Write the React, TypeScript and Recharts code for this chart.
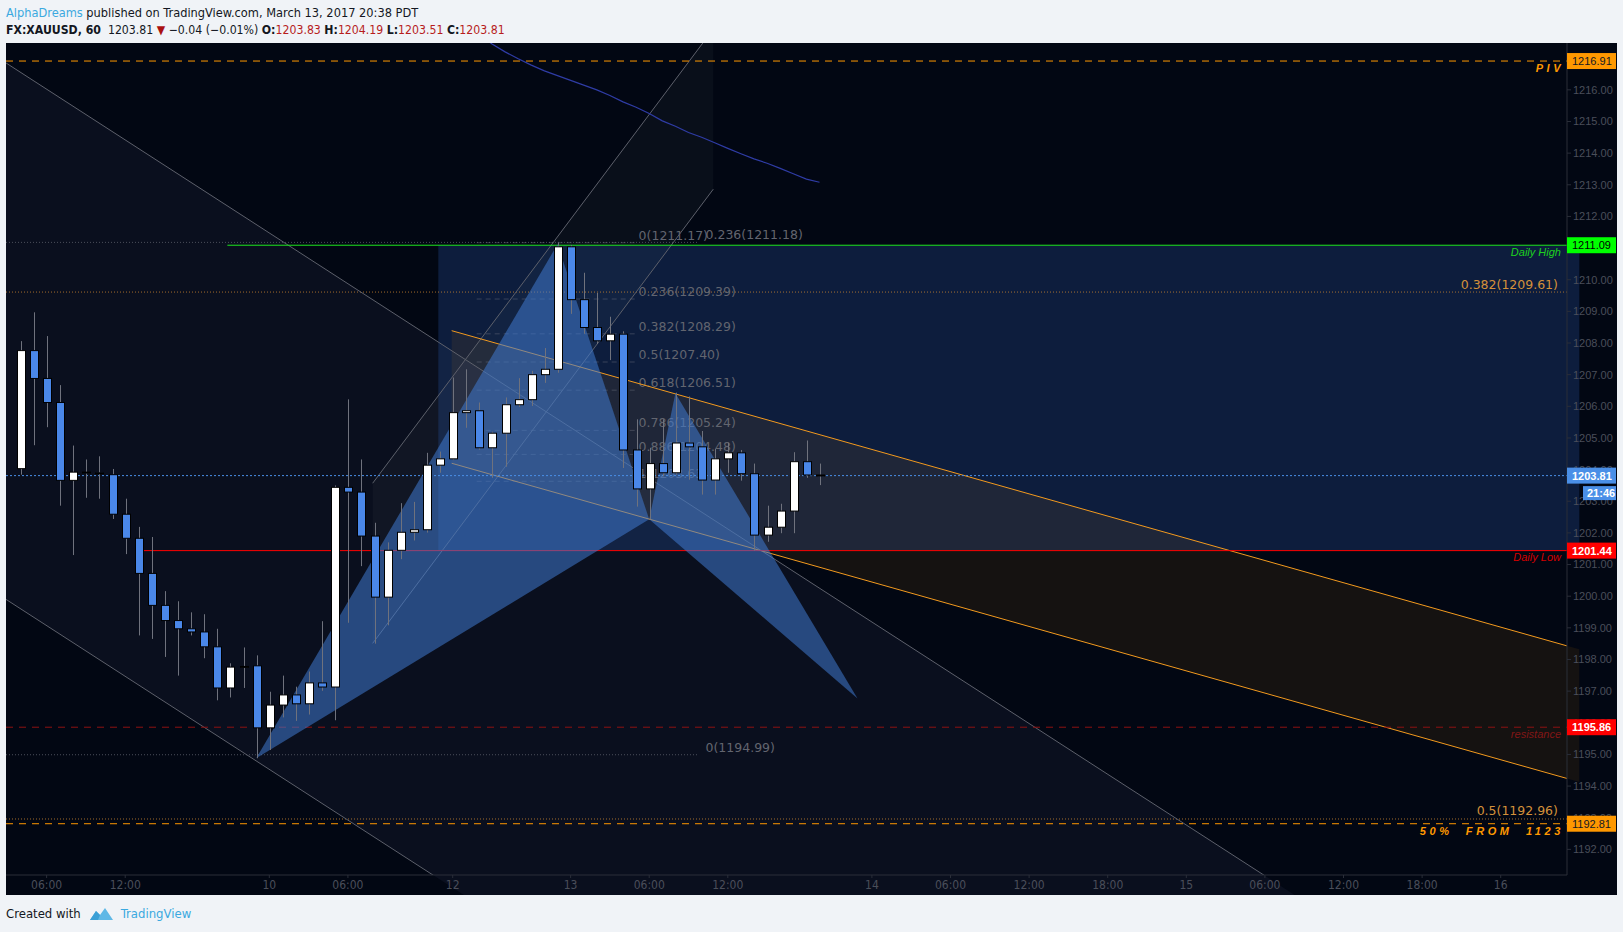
import React from 'react';
import { ComposedChart, Bar, Line, XAxis, YAxis, ReferenceLine, ReferenceArea, ReferenceDot } from 'recharts';

// ---------- data ----------
const barIndex = [-2,-1,0,1,2,3,4,5,6,7,8,9,10,11,12,13,14,15,16,17,18,19,20,21,22,23,24,25,26,27,28,29,30,31,32,33,34,35,36,37,38,39,40,41,42,43,44,45,46,47,48,49,50,51,52,53,54,55,56,57,58,59];
const opens = [1204.03,1207.76,1206.88,1206.12,1203.66,1203.92,1203.90,1203.84,1202.59,1201.83,1200.72,1199.71,1199.23,1198.97,1198.87,1198.40,1197.10,1197.76,1197.80,1195.84,1196.56,1196.88,1196.60,1197.26,1197.13,1203.44,1203.29,1201.90,1199.97,1201.45,1202.02,1202.10,1204.14,1204.34,1205.80,1205.86,1204.69,1205.15,1206.05,1206.21,1207.00,1207.17,1211.04,1209.37,1208.49,1208.07,1208.28,1204.62,1203.39,1204.19,1203.90,1204.84,1204.72,1203.67,1204.34,1204.53,1203.87,1201.93,1202.18,1202.69,1204.25,1203.83];
const highs = [1208.06,1208.97,1208.22,1206.67,1204.76,1204.32,1204.42,1204.02,1203.08,1202.19,1201.87,1200.16,1199.84,1199.49,1199.43,1198.97,1197.88,1198.38,1198.13,1196.98,1197.49,1197.14,1197.62,1199.21,1203.50,1206.22,1204.32,1202.32,1201.70,1202.94,1202.98,1204.53,1204.57,1206.91,1207.17,1206.12,1205.20,1206.28,1206.89,1207.12,1207.84,1211.17,1211.10,1210.22,1209.58,1208.83,1208.37,1205.59,1204.69,1205.59,1206.43,1206.31,1205.22,1204.66,1204.85,1204.62,1204.19,1202.86,1202.92,1204.55,1204.92,1204.19];
const lows = [1203.84,1204.77,1205.34,1202.86,1201.30,1203.11,1203.08,1202.44,1201.33,1198.76,1198.65,1198.08,1197.49,1198.76,1198.04,1196.71,1196.80,1197.10,1194.88,1195.14,1196.17,1196.06,1196.26,1197.01,1196.08,1199.16,1200.95,1198.50,1199.08,1201.17,1201.76,1202.01,1203.90,1204.30,1205.32,1204.63,1203.74,1204.09,1205.98,1206.01,1206.74,1207.06,1208.92,1208.29,1207.97,1207.46,1204.05,1202.83,1202.43,1203.79,1203.84,1203.68,1203.21,1203.21,1203.90,1203.65,1201.44,1201.72,1201.99,1201.99,1203.74,1203.51];
const closes = [1207.76,1206.88,1206.12,1203.66,1203.92,1203.90,1203.87,1202.59,1201.83,1200.72,1199.71,1199.23,1198.97,1198.87,1198.40,1197.10,1197.76,1197.78,1195.84,1196.56,1196.88,1196.60,1197.26,1197.13,1203.44,1203.29,1201.90,1199.97,1201.45,1202.02,1202.10,1204.14,1204.34,1205.80,1205.86,1204.69,1205.15,1206.05,1206.21,1207.00,1207.17,1211.04,1209.37,1208.49,1208.07,1208.28,1204.62,1203.39,1204.19,1203.90,1204.84,1204.72,1203.67,1204.34,1204.53,1203.87,1201.93,1202.18,1202.69,1204.25,1203.83,1203.81];

const maStart = 33;
const maValues = [1217.75,1217.45,1217.20,1216.98,1216.78,1216.60,1216.45,1216.30,1216.15,1216.00,1215.82,1215.62,1215.45,1215.25,1215.02,1214.85,1214.65,1214.50,1214.33,1214.15,1213.98,1213.82,1213.68,1213.52,1213.35,1213.18,1213.08];

const timeTicks = [0,6,17,23,31,40,46,52,63,69,75,81,87,93,99,105,111];
const timeLabels = ['06:00','12:00','10','06:00','12','13','06:00','12:00','14','06:00','12:00','18:00','15','06:00','12:00','18:00','16'];
const priceTicks = [1192,1193,1194,1195,1196,1197,1198,1199,1200,1201,1202,1203,1204,1205,1206,1207,1208,1209,1210,1211,1212,1213,1214,1215,1216];

// harmonic XABCD points
const harmI = [16, 39, 46, 48, 61.9];
const harmP = [1194.88, 1211.12, 1202.43, 1206.41, 1196.77];

// descending gray channel (two parallel lines)
const descTopI = [-4, 120];
const descTopP = [1217.09, 1183.95];
const descBotI = [-4, 120];
const descBotP = [1200.14, 1167.00];

// rising gray channel
const riseI = [24.89, 50.89];
const riseLowP = [1198.51, 1212.86];
const riseUpP = [1203.57, 1217.92];

// orange descending channel
const orangeI = [30.92, 117];
const orangeUpP = [1208.39, 1198.32];
const orangeLowP = [1204.20, 1194.13];

// daily range box
const boxI = [29.9, 117];
const dailyHigh = 1211.09;
const dailyLow = 1201.44;
const dailyHighStart = 13.8;
const dailyLowStart = 7.3;

// small fib retracement
const fibSmallLevels = [1211.17, 1209.39, 1208.29, 1207.40, 1206.51, 1205.24, 1204.48, 1203.63];
const fibSmallRatios = ['0', '0.236', '0.382', '0.5', '0.618', '0.786', '0.886', '1'];
const fibSmallSpan = [32.83, 44.9];
const fibSmallLabelI = 45.19;

// big gray fib
const fibBigLevels = [1211.18, 1194.99];
const fibBigRatios = ['0.236', '0'];
const fibBigSpan = [-3.1, 49.75];
const fibBigLabelI = 50.3;

// orange fib
const fibOrangeLevels = [1209.61, 1192.96];
const fibOrangeRatios = ['0.382', '0.5'];
const fibOrangeLabelI = 115.37;

const pivLevel = 1216.91;
const resistanceLevel = 1195.86;
const fiftyLevel = 1192.81;
const lastPrice = 1203.81;

const X_DOMAIN = [-3.1, 116.06];
const Y_DOMAIN = [1191.19, 1217.48];

const candleData = barIndex.map((i, k) => ({
  i,
  open: opens[k],
  high: highs[k],
  low: lows[k],
  close: closes[k],
  ma: i >= maStart ? maValues[i - maStart] : null,
}));

// ---------- styling ----------
const COND = "'Liberation Sans Narrow','DejaVu Sans Condensed','Roboto Condensed',sans-serif";
const SANS = "'Liberation Sans',Arial,sans-serif";
const DEJA = "'DejaVu Sans',Verdana,sans-serif";
const BG = '#020713';

function Candle(props: any) {
  const { x, y, width, height, payload } = props;
  if (x == null || y == null || !payload) return null;
  const top = Math.min(y, y + height);
  const h = Math.abs(height);
  const { open, close, high, low } = payload;
  const k = high > low ? h / (high - low) : 0;
  const yOf = (v: number) => top + (high - v) * k;
  const cx = Math.round(x + width / 2) + 0.5;
  const bTop = yOf(Math.max(open, close));
  const bBot = yOf(Math.min(open, close));
  const up = close >= open;
  return (
    <g>
      <line x1={cx} x2={cx} y1={top} y2={top + h} stroke="#6f727d" strokeWidth={1} />
      <rect x={cx - 4} y={bTop} width={8} height={Math.max(bBot - bTop, 1)} fill={up ? '#ffffff' : '#4a87e8'} stroke="#000000" strokeWidth={1} />
    </g>
  );
}

type Pt = { i: number; p: number };
function polyArea(key: string, pts: Pt[], fill: string, z: number) {
  const is = pts.map((q) => q.i);
  const ps = pts.map((q) => q.p);
  const i0 = Math.min(...is), i1 = Math.max(...is), p0 = Math.min(...ps), p1 = Math.max(...ps);
  const shape = (props: any) => {
    const { x, y, width, height } = props;
    if (x == null) return null;
    const px = (i: number) => x + ((i - i0) / (i1 - i0)) * width;
    const py = (p: number) => y + ((p1 - p) / (p1 - p0)) * height;
    const d = pts.map((q, n) => `${n ? 'L' : 'M'}${px(q.i).toFixed(2)},${py(q.p).toFixed(2)}`).join('') + 'Z';
    return <path d={d} fill={fill} stroke="none" />;
  };
  return (
    <ReferenceArea key={key} x1={i0} x2={i1} y1={p0} y2={p1} ifOverflow="hidden" shape={shape} zIndex={z} />
  );
}

function seg(key: string, a: Pt, b: Pt, stroke: string, z: number, dash?: string, width = 1, overflow: any = 'hidden', label?: any) {
  return (
    <ReferenceLine
      key={key}
      segment={[{ x: a.i, y: a.p }, { x: b.i, y: b.p }]}
      stroke={stroke}
      strokeWidth={width}
      strokeDasharray={dash}
      ifOverflow={overflow}
      zIndex={z}
      label={label}
    />
  );
}

function textDot(key: string, i: number, p: number, text: string, opts: any, z: number) {
  const shape = (props: any) => {
    const { cx, cy } = props;
    if (cx == null) return null;
    return (
      <text
        x={cx + (opts.dx || 0)}
        y={cy + (opts.dy || 0)}
        fill={opts.color}
        fontSize={opts.size || 12.5}
        fontFamily={opts.family || DEJA}
        textAnchor={opts.anchor || 'start'}
      >
        {text}
      </text>
    );
  };
  return <ReferenceDot key={key} x={i} y={p} r={0} ifOverflow="visible" shape={shape} zIndex={z} />;
}

// in-plot caption at right end of a horizontal line
function caption(inner: any) {
  return (props: any) => {
    const vb = props.viewBox || {};
    const xr = (vb.x || 0) + (vb.width || 0);
    const yy = vb.y || 0;
    return (
      <text
        x={xr - 6 - (inner.shift || 0)}
        y={yy + inner.dy}
        fill={inner.color}
        fontSize={inner.size || 11}
        fontFamily={SANS}
        fontStyle="italic"
        fontWeight={inner.bold ? 'bold' : 'normal'}
        textAnchor="end"
        letterSpacing={inner.ls || 0}
        style={{ whiteSpace: 'pre' }}
      >
        {inner.text}
      </text>
    );
  };
}

// price tag drawn on the price axis
function tag(value: string, bg: string, fg: string, extra?: string) {
  return (props: any) => {
    const vb = props.viewBox || {};
    const xr = (vb.x || 0) + (vb.width || 0);
    const yy = vb.y || 0;
    return (
      <g>
        <rect x={xr} y={yy - 8} width={49} height={16} fill={bg} />
        <text x={xr + 5} y={yy + 4} fill={fg} fontSize={11} fontFamily={SANS} fontWeight={fg === '#ffffff' ? 'bold' : 'normal'}>
          {value}
        </text>
        {extra ? (
          <g>
            <rect x={xr + 16} y={yy + 10.5} width={33} height={14} fill={bg} />
            <text x={xr + 20} y={yy + 21.5} fill="#ffffff" fontSize={11} fontFamily={SANS} fontWeight="bold">
              {extra}
            </text>
          </g>
        ) : null}
      </g>
    );
  };
}

function tagLine(key: string, level: number, render: any) {
  return (
    <ReferenceLine
      key={key}
      segment={[{ x: X_DOMAIN[0], y: level }, { x: X_DOMAIN[1], y: level }]}
      stroke="none"
      strokeWidth={0}
      ifOverflow="visible"
      zIndex={3000}
      label={render}
    />
  );
}

export default function App() {
  const X: Pt = { i: harmI[0], p: harmP[0] };
  const A: Pt = { i: harmI[1], p: harmP[1] };
  const B: Pt = { i: harmI[2], p: harmP[2] };
  const Cc: Pt = { i: harmI[3], p: harmP[3] };
  const D: Pt = { i: harmI[4], p: harmP[4] };

  return (
    <div style={{ position: 'absolute', left: 0, top: 0, width: 1623, height: 932, background: '#f0f3f7', overflow: 'hidden' }}>
      <div style={{ position: 'absolute', left: 6, top: 4, fontFamily: COND, fontSize: 12.7, lineHeight: '17px', color: '#131722', whiteSpace: 'nowrap' }}>
        <span style={{ color: '#3ba9e0' }}>AlphaDreams</span> published on TradingView.com, March 13, 2017 20:38 PDT
      </div>
      <div style={{ position: 'absolute', left: 6, top: 22, fontFamily: COND, fontSize: 12.2, lineHeight: '17px', color: '#131722', whiteSpace: 'pre' }}>
        <b>FX:XAUUSD, 60</b>{'  1203.81 '}
        <span style={{ color: '#a11' }}>▼</span>
        {' −0.04 (−0.01%) '}
        <b>O:</b><span style={{ color: '#b71c1c' }}>1203.83</span>{' '}
        <b>H:</b><span style={{ color: '#b71c1c' }}>1204.19</span>{' '}
        <b>L:</b><span style={{ color: '#b71c1c' }}>1203.51</span>{' '}
        <b>C:</b><span style={{ color: '#b71c1c' }}>1203.81</span>
      </div>

      <div style={{ position: 'absolute', left: 6, top: 43, width: 1611, height: 852, background: BG }}>
        <ComposedChart width={1611} height={852} data={candleData} margin={{ top: 0, right: 0, bottom: 0, left: 0 }}>
          <XAxis
            dataKey="i"
            type="number"
            domain={X_DOMAIN}
            allowDataOverflow
            ticks={timeTicks}
            interval={0}
            tickFormatter={(v: number) => timeLabels[timeTicks.indexOf(v)] || ''}
            height={20}
            stroke="#2a2e39"
            tickSize={3}
            tick={{ fill: '#4a4e5a', fontSize: 12, fontFamily: COND }}
          />
          <YAxis
            orientation="right"
            type="number"
            domain={Y_DOMAIN}
            allowDataOverflow
            ticks={priceTicks}
            interval={0}
            tickFormatter={(v: number) => v.toFixed(2)}
            width={50}
            stroke="#2a2e39"
            tickSize={4}
            tick={{ fill: '#4a4e5a', fontSize: 11, fontFamily: SANS }}
          />

          {/* background regions */}
          {polyArea('desc-fill', [
            { i: descTopI[0], p: descTopP[0] },
            { i: descTopI[1], p: descTopP[1] },
            { i: descBotI[1], p: descBotP[1] },
            { i: descBotI[0], p: descBotP[0] },
          ], '#0a0f1e', 1)}
          {polyArea('rise-fill', [
            { i: riseI[0], p: riseLowP[0] },
            { i: riseI[1], p: riseLowP[1] },
            { i: riseI[1], p: riseUpP[1] },
            { i: riseI[0], p: riseUpP[0] },
          ], 'rgba(120,123,134,0.07)', 2)}
          {polyArea('daily-box', [
            { i: boxI[0], p: dailyLow },
            { i: boxI[1], p: dailyLow },
            { i: boxI[1], p: dailyHigh },
            { i: boxI[0], p: dailyHigh },
          ], 'rgba(41,82,160,0.3)', 3)}
          {polyArea('orange-fill', [
            { i: orangeI[0], p: orangeLowP[0] },
            { i: orangeI[1], p: orangeLowP[1] },
            { i: orangeI[1], p: orangeUpP[1] },
            { i: orangeI[0], p: orangeUpP[0] },
          ], 'rgba(255,152,0,0.08)', 4)}

          {/* fib dotted lines */}
          {fibBigLevels.map((lv, k) =>
            seg('fb' + k, { i: fibBigSpan[0], p: lv }, { i: fibBigSpan[1], p: lv }, '#4b4f5b', 5, '1 2')
          )}
          {fibOrangeLevels.map((lv, k) =>
            seg('fo' + k, { i: X_DOMAIN[0], p: lv }, { i: X_DOMAIN[1], p: lv }, 'rgba(214,140,50,0.75)', 5, '1 2')
          )}
          {fibSmallLevels.map((lv, k) =>
            seg('fs' + k, { i: fibSmallSpan[0], p: lv }, { i: fibSmallSpan[1], p: lv }, 'rgba(120,123,134,0.4)', 6, '5 4')
          )}

          {/* fib labels */}
          {fibSmallLevels.map((lv, k) =>
            textDot('fsl' + k, fibSmallLabelI, lv, `${fibSmallRatios[k]}(${lv.toFixed(2)})`, { color: '#62656f', dy: -3 }, 7)
          )}
          {fibBigLevels.map((lv, k) =>
            textDot('fbl' + k, fibBigLabelI, lv, `${fibBigRatios[k]}(${lv.toFixed(2)})`, { color: '#62656f', dy: -3 }, 7)
          )}
          {fibOrangeLevels.map((lv, k) =>
            textDot('fol' + k, fibOrangeLabelI, lv, `${fibOrangeRatios[k]}(${lv.toFixed(2)})`, { color: '#d4913a', dy: -3.5, anchor: 'end' }, 7)
          )}

          {/* gray channel lines */}
          {seg('descA', { i: descTopI[0], p: descTopP[0] }, { i: descTopI[1], p: descTopP[1] }, '#5d606b', 8)}
          {seg('descB', { i: descBotI[0], p: descBotP[0] }, { i: descBotI[1], p: descBotP[1] }, '#5d606b', 8)}
          {seg('riseL', { i: riseI[0], p: riseLowP[0] }, { i: riseI[1], p: riseLowP[1] }, '#5d606b', 8)}
          {seg('riseU', { i: riseI[0], p: riseUpP[0] }, { i: riseI[1], p: riseUpP[1] }, '#5d606b', 8)}

          {/* orange channel lines */}
          {seg('orU', { i: orangeI[0], p: orangeUpP[0] }, { i: orangeI[1], p: orangeUpP[1] }, '#f39a1e', 9)}
          {seg('orL', { i: orangeI[0], p: orangeLowP[0] }, { i: orangeI[1], p: orangeLowP[1] }, '#f39a1e', 9)}

          {/* key horizontal lines */}
          {seg('dlow', { i: dailyLowStart, p: dailyLow }, { i: X_DOMAIN[1], p: dailyLow }, '#ff0000', 10, undefined, 1, 'visible',
            caption({ text: 'Daily Low', color: '#d50000', dy: 10.7 }))}
          {seg('dhigh', { i: dailyHighStart, p: dailyHigh }, { i: X_DOMAIN[1], p: dailyHigh }, '#1ee61e', 10, undefined, 1, 'visible',
            caption({ text: 'Daily High', color: '#1ed21e', dy: 10.5 }))}
          {seg('piv', { i: X_DOMAIN[0], p: pivLevel }, { i: X_DOMAIN[1], p: pivLevel }, '#ff9800', 10, '7 6', 1, 'visible',
            caption({ text: 'PIV', color: '#ff9800', dy: 11, bold: true, ls: 3.5, shift: -3 }))}
          {seg('res', { i: X_DOMAIN[0], p: resistanceLevel }, { i: X_DOMAIN[1], p: resistanceLevel }, '#8e1212', 10, '7 6', 1, 'visible',
            caption({ text: 'resistance', color: '#821616', dy: 10.8 }))}
          {seg('fifty', { i: X_DOMAIN[0], p: fiftyLevel }, { i: X_DOMAIN[1], p: fiftyLevel }, '#ff9800', 10, '7 6', 1, 'visible',
            caption({ text: '50%  FROM  1123', color: '#ff9800', dy: 11, bold: true, ls: 3.6, shift: -3 }))}

          {/* harmonic pattern */}
          {polyArea('xab', [X, A, B], 'rgba(64,122,207,0.55)', 11)}
          {polyArea('bcd', [B, Cc, D], 'rgba(64,122,207,0.55)', 11)}

          {/* last price */}
          {seg('last', { i: X_DOMAIN[0], p: lastPrice }, { i: X_DOMAIN[1], p: lastPrice }, '#4a8fe7', 12, '2 2', 1, 'visible')}

          <Line
            dataKey="ma"
            type="linear"
            stroke="#2f3ca5"
            strokeWidth={1.2}
            dot={false}
            activeDot={false}
            connectNulls={false}
            isAnimationActive={false}
            zIndex={13}
          />
          <Bar
            dataKey={(d: any) => [d.low, d.high]}
            barSize={8}
            shape={Candle}
            isAnimationActive={false}
            zIndex={14}
          />

          {/* price-axis tags, drawn above the axis */}
          {tagLine('t-piv', pivLevel, tag('1216.91', '#ff9800', '#131722'))}
          {tagLine('t-dh', dailyHigh, tag('1211.09', '#00ff00', '#000000'))}
          {tagLine('t-last', lastPrice, tag('1203.81', '#4a8fe7', '#ffffff', '21:46'))}
          {tagLine('t-dl', dailyLow, tag('1201.44', '#ff0000', '#ffffff'))}
          {tagLine('t-res', resistanceLevel, tag('1195.86', '#ff0000', '#ffffff'))}
          {tagLine('t-50', fiftyLevel, tag('1192.81', '#ff9800', '#131722'))}
        </ComposedChart>
      </div>

      <div style={{ position: 'absolute', left: 6, top: 905, fontFamily: COND, fontSize: 13, lineHeight: '18px', color: '#131722', whiteSpace: 'nowrap', display: 'flex', alignItems: 'center' }}>
        <span>Created with</span>
        <svg width={26} height={16} style={{ marginLeft: 8, marginRight: 6 }}>
          <path d="M1,14 L7,5 L11,9 L16,2 L24,14 Z" fill="#5fb8e6" />
          <path d="M7,5 L11,9 L9,14 L1,14 Z" fill="#3a9fd6" />
        </svg>
        <span style={{ color: '#3ba9e0' }}>TradingView</span>
      </div>
    </div>
  );
}
